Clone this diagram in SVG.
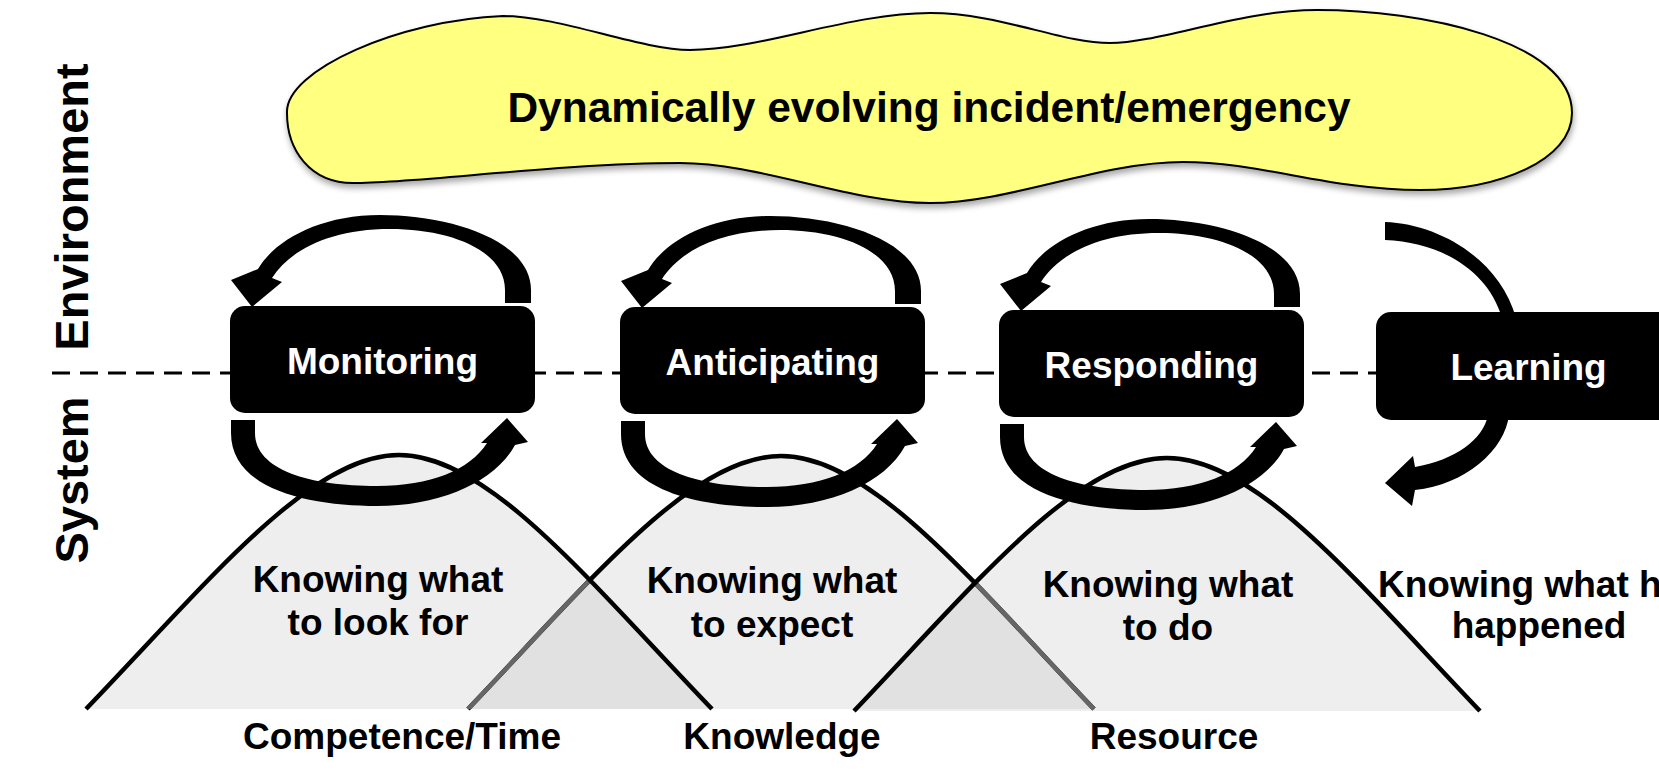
<svg xmlns="http://www.w3.org/2000/svg" width="1659" height="770" viewBox="0 0 1659 770">
<defs>
<style>
.t{font-family:"Liberation Sans",Arial,Helvetica,sans-serif;font-weight:bold;fill:#000}
.lbl{font-size:37px;text-anchor:middle}
.boxt{font-size:37px;fill:#fff;text-anchor:middle}
.side{font-size:47px;text-anchor:middle}
.box{fill:#000}
.hill{fill:#eeeeee;stroke:none}
.ov{fill:#e1e1e1;stroke:none}
.hl{fill:none;stroke:#000;stroke-width:4.5}
.hg{fill:none;stroke:#666;stroke-width:4.5}
.arr{fill:#000}
</style>
<filter id="sh" x="-5%" y="-20%" width="110%" height="150%">
<feGaussianBlur in="SourceAlpha" stdDeviation="3"/>
<feOffset dx="1" dy="4" result="o"/>
<feComponentTransfer><feFuncA type="linear" slope="0.35"/></feComponentTransfer>
<feMerge><feMergeNode/><feMergeNode in="SourceGraphic"/></feMerge>
</filter>
<clipPath id="c1"><path d="M 86,709 C 210,580 310,455 399,455 C 488,455 588,580 712,709 Z"/></clipPath>
<clipPath id="c2"><path d="M 468,709 C 592,579 692,456 781,456 C 870,456 970,579 1094,709 Z"/></clipPath>
<clipPath id="c3"><path d="M 854,711 C 978,581 1078,458 1167,458 C 1256,458 1356,581 1480,711 Z"/></clipPath>
<path id="up" d="M 531,303 L 531,290 C 531,240 450,215 380,215 C 320,215 275,240 258,269 L 231,280 L 252,307 L 282,282 L 272,278 C 290,250 330,229 390,229 C 450,229 505,250 505,290 L 505,303 Z"/>
<path id="lo" d="M 231,420 L 255,420 L 255,433 C 255,470 310,486 377,486 C 430,486 470,470 487,443 L 481,443 L 507,418 L 528,442 L 515,445 C 495,482 440,506 377,506 C 310,506 231,490 231,433 Z"/>
</defs>

<rect width="1659" height="770" fill="#fff"/>

<g id="environment-label"><text class="t side" transform="translate(88,207) rotate(-90)">Environment</text></g>
<g id="system-label"><text class="t side" transform="translate(88,480) rotate(-90)">System</text></g>

<g id="divider"><line x1="52" y1="373" x2="1659" y2="373" stroke="#000" stroke-width="3" stroke-dasharray="18 10"/></g>

<g id="incident">
<path filter="url(#sh)" fill="#ffff80" stroke="#000" stroke-width="2" d="M 287,113 C 285,70 400,20 503,16 C 560,16 640,50 690,50 C 760,50 850,13 930,13 C 1000,13 1060,43 1110,43 C 1160,43 1240,10 1317,10 C 1420,10 1572,40 1572,113 C 1572,160 1500,190 1420,190 C 1330,190 1260,162 1183,162 C 1100,162 1010,203 930,203 C 850,203 760,163 680,163 C 560,163 420,183 353,183 C 310,183 287,150 287,113 Z"/>
<text class="t" x="929" y="122" font-size="42.5" text-anchor="middle">Dynamically evolving incident/emergency</text>
</g>

<g id="hills">
<path class="hill" d="M 468,709 C 592,579 692,456 781,456 C 870,456 970,579 1094,709 Z"/>
<path class="hill" d="M 86,709 C 210,580 310,455 399,455 C 488,455 588,580 712,709 Z"/>
<path class="hill" d="M 854,711 C 978,581 1078,458 1167,458 C 1256,458 1356,581 1480,711 Z"/>
<path class="ov" clip-path="url(#c2)" d="M 86,709 C 210,580 310,455 399,455 C 488,455 588,580 712,709 Z"/>
<path class="ov" clip-path="url(#c2)" d="M 854,711 C 978,581 1078,458 1167,458 C 1256,458 1356,581 1480,711 Z"/>
<path class="hl" d="M 468,709 C 592,579 692,456 781,456 C 870,456 970,579 1094,709"/>
<path class="hg" clip-path="url(#c1)" d="M 468,709 C 592,579 692,456 781,456 C 870,456 970,579 1094,709"/>
<path class="hg" clip-path="url(#c3)" d="M 468,709 C 592,579 692,456 781,456 C 870,456 970,579 1094,709"/>
<path class="hl" d="M 86,709 C 210,580 310,455 399,455 C 488,455 588,580 712,709"/>
<path class="hl" d="M 854,711 C 978,581 1078,458 1167,458 C 1256,458 1356,581 1480,711"/>
</g>

<g id="connectors" class="arr">
<use href="#up"/>
<use href="#lo"/>
<use href="#up" transform="translate(390,1)"/>
<use href="#lo" transform="translate(390,1)"/>
<use href="#up" transform="translate(769,4)"/>
<use href="#lo" transform="translate(769,4)"/>
<path d="M 1385,222 C 1440,224 1500,260 1516,318 L 1502,318 C 1488,270 1440,242 1385,240 Z"/>
<path d="M 1488,415 L 1509,415 C 1505,450 1465,485 1415,490 L 1412,506 L 1385,483 L 1413,456 L 1415,467 C 1455,460 1483,440 1488,415 Z"/>
</g>

<g id="monitoring"><rect class="box" x="230" y="306" width="305" height="107" rx="15"/><text class="t boxt" x="382.5" y="373.5">Monitoring</text></g>
<g id="anticipating"><rect class="box" x="620" y="307" width="305" height="107" rx="15"/><text class="t boxt" x="772.5" y="374.5">Anticipating</text></g>
<g id="responding"><rect class="box" x="999" y="310" width="305" height="107" rx="15"/><text class="t boxt" x="1151.5" y="377.5">Responding</text></g>
<g id="learning"><rect class="box" x="1376" y="312" width="305" height="108" rx="15"/><text class="t boxt" x="1528.5" y="380">Learning</text></g>

<g id="knowing-look"><text class="t lbl" x="378" y="592">Knowing what</text><text class="t lbl" x="378" y="635">to look for</text></g>
<g id="knowing-expect"><text class="t lbl" x="772" y="593">Knowing what</text><text class="t lbl" x="772" y="637">to expect</text></g>
<g id="knowing-do"><text class="t lbl" x="1168" y="597">Knowing what</text><text class="t lbl" x="1168" y="640">to do</text></g>
<g id="knowing-happened"><text class="t" font-size="37" x="1378" y="597">Knowing what h</text><text class="t lbl" x="1539" y="638">happened</text></g>

<g id="competence"><text class="t lbl" x="402" y="749">Competence/Time</text></g>
<g id="knowledge"><text class="t lbl" x="782" y="749">Knowledge</text></g>
<g id="resource"><text class="t lbl" x="1174" y="749">Resource</text></g>
</svg>
